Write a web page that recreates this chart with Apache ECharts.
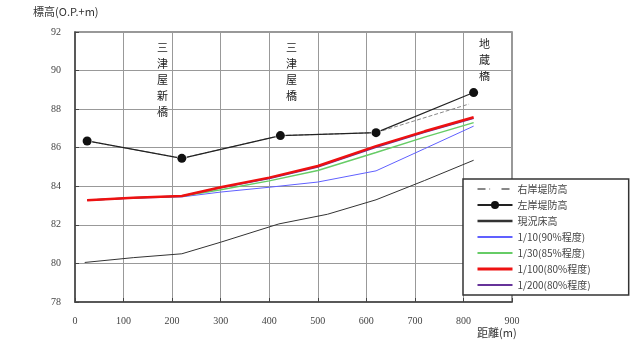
<!DOCTYPE html>
<html><head><meta charset="utf-8">
<script src="https://cdn.jsdelivr.net/npm/echarts@6/dist/echarts.min.js"></script>
<style>html,body{margin:0;padding:0;background:#fff}#c{width:630px;height:348px}</style>
</head><body><div id="c"></div>
<script>
// Distances (m) and elevations (O.P.+m)
const bankX = [25, 220, 423, 620, 821];
const rightBank = [86.35, 85.45, 86.63, 86.78, 88.34];
const leftBank = [86.35, 85.45, 86.63, 86.78, 88.86];
const bedX = [20, 120, 220, 300, 420, 520, 620, 720, 821];
const bedY = [80.05, 80.3, 80.5, 81.1, 82.05, 82.55, 83.3, 84.3, 85.35];
const wlX = [25, 120, 220, 300, 400, 500, 620, 720, 821];
const wl10 = [83.27, 83.38, 83.45, 83.7, 83.95, 84.22, 84.8, 85.95, 87.12];
const wl30 = [83.27, 83.4, 83.48, 83.82, 84.28, 84.82, 85.75, 86.55, 87.3];
const wl100 = [83.27, 83.4, 83.5, 83.95, 84.45, 85.05, 86.08, 86.85, 87.58];
const wl200 = [83.27, 83.4, 83.5, 83.92, 84.4, 85.0, 86.02, 86.8, 87.52];
const yTicks = [78, 80, 82, 84, 86, 88, 90, 92];
const bridges = ['三津屋新橋', '三津屋橋', '地蔵橋'];
const names = ['右岸堤防高', '左岸堤防高', '現況床高', '1/10(90%程度)', '1/30(85%程度)', '1/100(80%程度)', '1/200(80%程度)'];

const zip = (xs, ys) => xs.map((x, i) => [x, ys[i]]);
const chart = echarts.init(document.getElementById('c'));
const font = "'Noto Sans CJK JP', sans-serif";
const vert = s => s.split('').join('\n');
const hide = { opacity: 0 };

chart.setOption({
  animation: false,
  grid: { left: 75, top: 32, width: 437, height: 270, show: true, borderColor: '#777', borderWidth: 1.5 },
  xAxis: {
    type: 'value', min: 0, max: 900, interval: 100,
    axisLine: { show: true, lineStyle: { color: '#444', width: 1.5 } },
    axisTick: { show: true, inside: true, length: 4, lineStyle: { color: '#444' } },
    axisLabel: { color: '#444', fontSize: 10, fontFamily: 'Liberation Serif', margin: 14 },
    splitLine: { show: true, lineStyle: { color: '#999', width: 1 } }
  },
  yAxis: {
    type: 'value', min: 78, max: 92, interval: 2,
    axisLine: { show: true, lineStyle: { color: '#444', width: 1.5 } },
    axisTick: { show: true, inside: true, length: 4, lineStyle: { color: '#444' } },
    axisLabel: { color: '#444', fontSize: 10, fontFamily: 'Liberation Serif', margin: 14,
      formatter: v => yTicks.includes(v) ? String(v) : '' },
    splitLine: { show: true, lineStyle: { color: '#999', width: 1 } }
  },
  legend: {
    orient: 'vertical', left: 463, top: 179,
    padding: [5, 38, 5, 13], itemGap: 6, itemWidth: 35, itemHeight: 10,
    backgroundColor: '#fff', borderColor: '#333', borderWidth: 1.5, borderRadius: 0,
    textStyle: { color: '#444', fontSize: 10, fontFamily: font },
    data: [
      { name: names[0] },
      { name: names[1] },
      { name: names[2], itemStyle: hide, lineStyle: { width: 2.5 } },
      { name: names[3], itemStyle: hide },
      { name: names[4], itemStyle: hide, lineStyle: { width: 2 } },
      { name: names[5], itemStyle: hide, lineStyle: { width: 3 } },
      { name: names[6], itemStyle: hide, lineStyle: { width: 2 } }
    ]
  },
  graphic: [
    { type: 'text', left: 33, top: 6, style: { text: '標高(O.P.+m)', fontSize: 11, fontFamily: font, fill: '#333' } },
    { type: 'text', left: 477, top: 327, style: { text: '距離(m)', fontSize: 11, fontFamily: font, fill: '#333' } },
    { type: 'text', left: 157, top: 40, style: { text: vert(bridges[0]), fontSize: 11, lineHeight: 16, fontFamily: font, fill: '#222' } },
    { type: 'text', left: 286, top: 40, style: { text: vert(bridges[1]), fontSize: 11, lineHeight: 16, fontFamily: font, fill: '#222' } },
    { type: 'text', left: 479, top: 36, style: { text: vert(bridges[2]), fontSize: 11, lineHeight: 16, fontFamily: font, fill: '#222' } }
  ],
  series: [
    { name: names[2], type: 'line', data: zip(bedX, bedY), symbol: 'none', lineStyle: { color: '#333', width: 1 }, itemStyle: { color: '#333' } },
    { name: names[3], type: 'line', data: zip(wlX, wl10), symbol: 'none', lineStyle: { color: '#6060ff', width: 1 }, itemStyle: { color: '#6060ff' } },
    { name: names[4], type: 'line', data: zip(wlX, wl30), symbol: 'none', lineStyle: { color: '#66cc66', width: 1.5 }, itemStyle: { color: '#66cc66' } },
    { name: names[6], type: 'line', data: zip(wlX, wl200), symbol: 'none', lineStyle: { color: '#663399', width: 1.5 }, itemStyle: { color: '#663399' } },
    { name: names[5], type: 'line', data: zip(wlX, wl100), symbol: 'none', lineStyle: { color: '#ee1111', width: 2.5 }, itemStyle: { color: '#ee1111' } },
    { name: names[0], type: 'line', data: zip(bankX, rightBank), symbol: 'emptyCircle', symbolSize: 8,
      lineStyle: { color: '#888', width: 1, type: 'dashed' }, itemStyle: { color: '#fff', borderColor: '#888', borderWidth: 1.2 } },
    { name: names[1], type: 'line', data: zip(bankX, leftBank), symbol: 'circle', symbolSize: 9,
      lineStyle: { color: '#222', width: 1.2 }, itemStyle: { color: '#111' } }
  ]
});
</script></body></html>
